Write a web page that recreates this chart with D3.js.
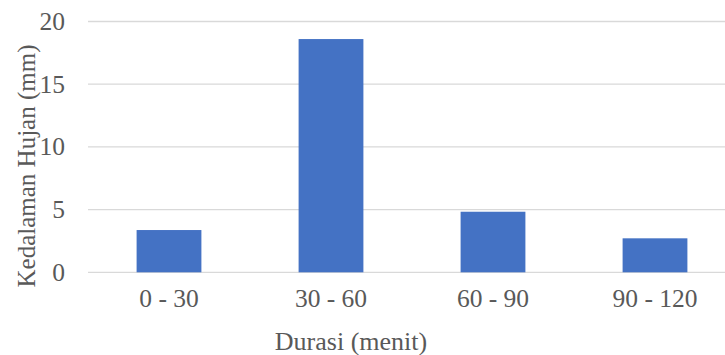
<!DOCTYPE html>
<html>
<head>
<meta charset="utf-8">
<script src="https://cdn.jsdelivr.net/npm/d3@7"></script>
<style>
  html, body { margin: 0; padding: 0; background: #fff; }
  svg { display: block; }
  text { font-family: "Liberation Serif", "Times New Roman", serif; fill: #595959; }
</style>
</head>
<body>
<svg id="chart" width="725" height="355"></svg>
<script>
// Rainfall depth per duration interval
const categories = ["0 - 30", "30 - 60", "60 - 90", "90 - 120"];
const values = [3.37, 18.6, 4.83, 2.71];
const yTicks = [0, 5, 10, 15, 20];
const xTitle = "Durasi (menit)";
const yTitle = "Kedalaman Hujan (mm)";

const svg = d3.select("#chart");
const W = 725, H = 355;
const plot = { left: 88, right: 736, top: 21.5, bottom: 272.3 };

const x = d3.scaleBand()
  .domain(categories)
  .range([plot.left, plot.right])
  .paddingInner(0.6)
  .paddingOuter(0.3);

const y = d3.scaleLinear()
  .domain([0, 20])
  .range([plot.bottom, plot.top]);

// Horizontal gridlines
svg.append("g")
  .selectAll("line")
  .data(yTicks)
  .join("line")
  .attr("x1", plot.left)
  .attr("x2", W)
  .attr("y1", d => y(d))
  .attr("y2", d => y(d))
  .attr("stroke", "#d9d9d9")
  .attr("stroke-width", 1.3);

// Y axis tick labels
const yAxis = d3.axisLeft(y).tickValues(yTicks).tickSize(0).tickPadding(0);
const gy = svg.append("g")
  .attr("transform", "translate(65,0)")
  .call(yAxis);
gy.select(".domain").remove();
gy.selectAll("text")
  .attr("font-size", 25.5)
  .attr("dy", "0.31em");

// Bars
svg.append("g")
  .selectAll("rect")
  .data(values)
  .join("rect")
  .attr("x", (d, i) => x(categories[i]))
  .attr("width", x.bandwidth())
  .attr("y", d => y(d))
  .attr("height", d => y(0) - y(d))
  .attr("fill", "#4472c4");

// X axis tick labels
const xAxis = d3.axisBottom(x).tickSize(0).tickPadding(0);
const gx = svg.append("g")
  .attr("transform", `translate(0,${plot.bottom})`)
  .call(xAxis);
gx.select(".domain").remove();
gx.selectAll("text")
  .attr("font-size", 25.5)
  .attr("dy", null)
  .attr("y", 34.5);

// Axis titles
svg.append("text")
  .attr("x", 351)
  .attr("y", 350)
  .attr("text-anchor", "middle")
  .attr("font-size", 26)
  .text(xTitle);

svg.append("text")
  .attr("transform", "translate(35,166) rotate(-90)")
  .attr("text-anchor", "middle")
  .attr("font-size", 25)
  .text(yTitle);
</script>
</body>
</html>
